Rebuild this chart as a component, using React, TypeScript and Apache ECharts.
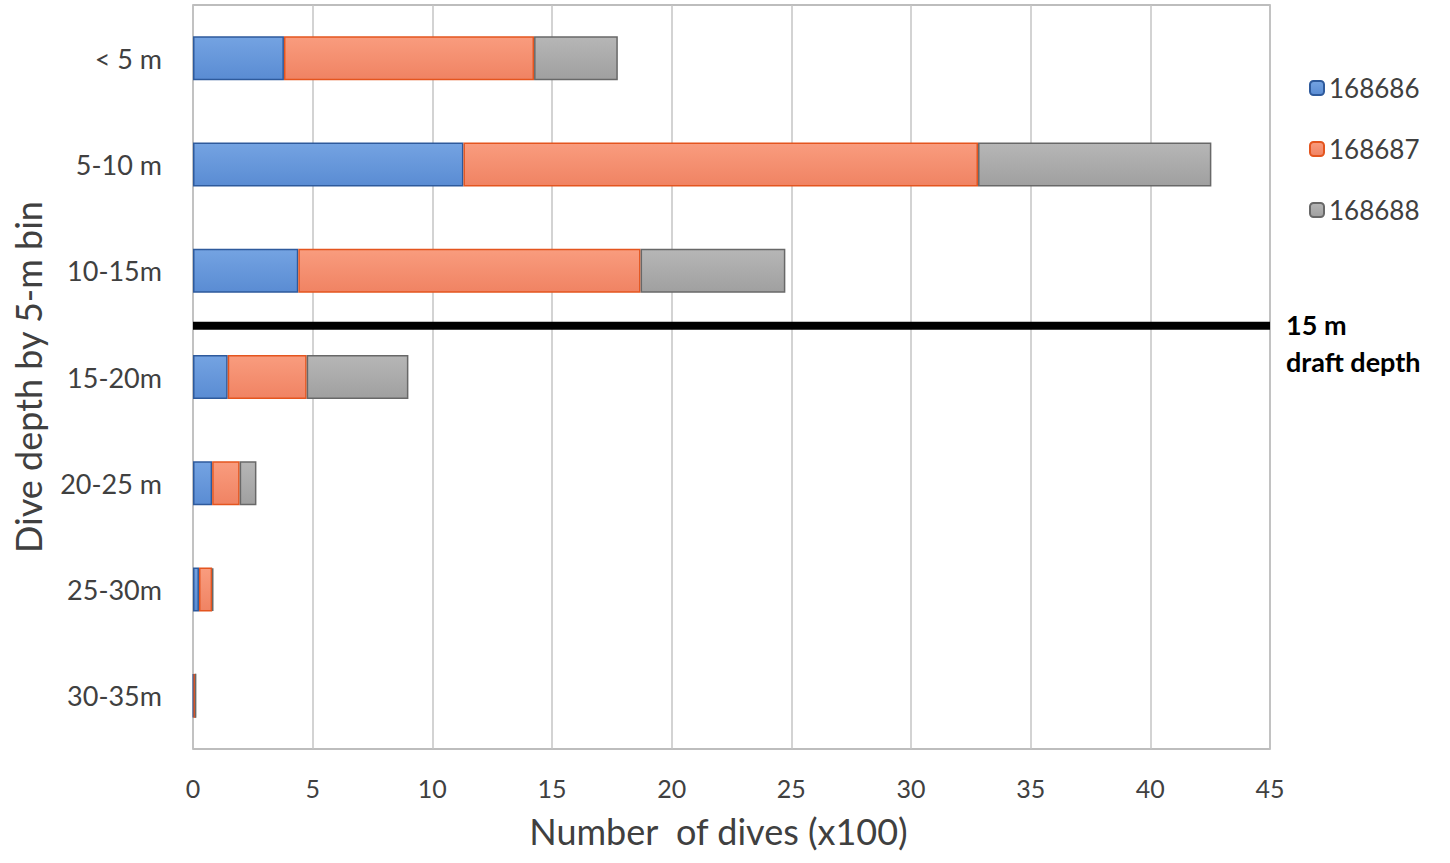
import React, { useEffect, useRef } from "react";
import * as echarts from "echarts";

const categories = ["< 5 m", "5-10 m", "10-15m", "15-20m", "20-25 m", "25-30m", "30-35m"];
const seriesNames = ["168686", "168687", "168688"];
const s168686 = [3.8, 11.3, 4.4, 1.45, 0.8, 0.25, 0.02];
const s168687 = [10.45, 21.5, 14.3, 3.3, 1.15, 0.55, 0.09];
const s168688 = [3.5, 9.75, 6.05, 4.25, 0.7, 0.05, 0];
const xTicks = [0, 5, 10, 15, 20, 25, 30, 35, 40, 45];

const FONT = "Lato";

function grad(top: string, bottom: string) {
  return new echarts.graphic.LinearGradient(0, 0, 0, 1, [
    { offset: 0, color: top },
    { offset: 1, color: bottom },
  ]);
}

export default function App() {
  const ref = useRef<HTMLDivElement>(null);
  useEffect(() => {
    if (!ref.current) return;
    const chart = echarts.init(ref.current, undefined, { renderer: "svg" });
    const fills = [
      grad("#74a3e2", "#5a8cd3"),
      grad("#f99c7e", "#f08363"),
      grad("#b6b6b6", "#a0a0a0"),
    ];
    const borders = ["#2e5a9c", "#e4551f", "#686868"];
    const dataSets = [s168686, s168687, s168688];
    chart.setOption({
      animation: false,
      textStyle: { fontFamily: FONT },
      grid: {
        left: 193,
        top: 5,
        right: 180,
        bottom: 114,
        show: true,
        borderColor: "#a8a8a8",
        borderWidth: 1.5,
        containLabel: false,
        outerBoundsMode: "none",
      },
      legend: {
        orient: "vertical",
        left: 1304,
        top: 70,
        itemWidth: 14,
        itemHeight: 14,
        itemGap: 35,
        data: seriesNames,
        textStyle: { fontSize: 26, color: "#404040", fontFamily: FONT },
      },
      xAxis: {
        type: "value",
        min: 0,
        max: 45,
        interval: 5,
        axisLine: { show: false },
        axisTick: { show: false },
        splitLine: { show: true, lineStyle: { color: "#c4c4c4", width: 1.5 } },
        axisLabel: {
          fontSize: 25,
          color: "#404040",
          margin: 26,
          fontFamily: FONT,
          formatter: (v: number) => (xTicks.indexOf(v) >= 0 ? String(v) : ""),
        },
        name: "Number  of dives (x100)",
        nameLocation: "middle",
        nameGap: 64,
        nameTextStyle: { fontSize: 36, color: "#404040", fontFamily: FONT, padding: [0, 26, 0, 0] },
      },
      yAxis: {
        type: "category",
        inverse: true,
        data: categories,
        axisLine: { show: false },
        axisTick: { show: false },
        axisLabel: { fontSize: 27, color: "#404040", margin: 31, fontFamily: FONT },
        name: "Dive depth by 5-m bin",
        nameLocation: "middle",
        nameGap: 147,
        nameTextStyle: { fontSize: 36, color: "#404040", fontFamily: FONT },
      },
      series: seriesNames.map((name, i) => ({
        name,
        type: "bar",
        stack: "total",
        barWidth: 44,
        data: dataSets[i],
        itemStyle: { color: fills[i], borderColor: borders[i], borderWidth: 1.5 },
        emphasis: { disabled: true },
      })),
    });
    const y1 = chart.convertToPixel({ yAxisIndex: 0 }, categories[2]) as number;
    const y2 = chart.convertToPixel({ yAxisIndex: 0 }, categories[3]) as number;
    const ym = (y1 + y2) / 2 + 2;
    const x0 = chart.convertToPixel({ xAxisIndex: 0 }, 0) as number;
    const x1 = chart.convertToPixel({ xAxisIndex: 0 }, 45) as number;
    chart.setOption({
      graphic: [
        {
          type: "line",
          shape: { x1: x0, y1: ym, x2: x1, y2: ym },
          style: { stroke: "#000", lineWidth: 8 },
          z: 100,
        },
        {
          type: "text",
          x: 1286,
          y: ym - 20,
          style: {
            text: "15 m\ndraft depth",
            font: `bold 27px ${FONT}`,
            fill: "#000",
            lineHeight: 37,
            verticalAlign: "top",
          },
          z: 100,
        },
      ],
    });
    return () => chart.dispose();
  }, []);
  return (
    <div
      ref={ref}
      style={{ position: "fixed", left: 0, top: 0, width: 1450, height: 863, background: "#fff" }}
    />
  );
}
